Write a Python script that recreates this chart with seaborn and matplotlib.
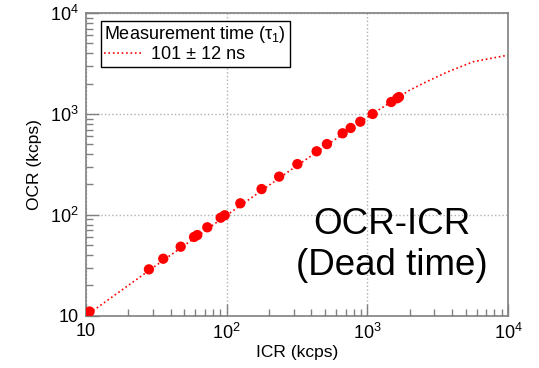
import numpy as np
import pandas as pd
import matplotlib
matplotlib.use('Agg')
import matplotlib.pyplot as plt
import seaborn as sns
from matplotlib.ticker import FuncFormatter, LogLocator, NullFormatter

#%% data
icr_meas = [10.6, 28.0, 35.4, 47.1, 58.6, 61.8, 72.8, 90.6, 96.8, 125, 177, 236,
            318, 436, 516, 667, 761, 891, 1091, 1479, 1632, 1678]
ocr_meas = [11.0, 28.8, 36.7, 48.3, 60.3, 63.0, 75.2, 93.6, 98.9, 130, 180, 239,
            318, 426, 502, 642, 725, 837, 998, 1312, 1428, 1469]

icr_fit = [10.6, 30, 100, 300, 1102, 2009, 2638, 3664, 5660, 9550, 10000]
ocr_fit = [10.6, 30, 99, 292, 1014, 1726, 2085, 2584, 3290, 3775, 3790]

meas = pd.DataFrame({'ICR': icr_meas, 'OCR': ocr_meas})
fit = pd.DataFrame({'ICR': icr_fit, 'OCR': ocr_fit})

#%% style
sns.set_style('white')
plt.rcParams['font.family'] = ['Liberation Sans', 'DejaVu Sans']
plt.rcParams['text.color'] = 'black'
plt.rcParams['axes.labelcolor'] = 'black'
plt.rcParams['xtick.labelcolor'] = 'black'
plt.rcParams['ytick.labelcolor'] = 'black'
plt.rcParams['mathtext.fontset'] = 'custom'
plt.rcParams['mathtext.rm'] = 'Liberation Sans'
plt.rcParams['mathtext.it'] = 'Liberation Sans:italic'

fig = plt.figure(figsize=(5.39, 3.68), dpi=100)
ax = fig.add_axes([0.1596, 0.1421, 0.7829, 0.8226])

sns.lineplot(data=fit, x='ICR', y='OCR', color='red', linestyle=':', lw=1.2,
             label='101 ± 12 ns', ax=ax)
sns.scatterplot(data=meas, x='ICR', y='OCR', color='red', s=55, edgecolor='none',
                ax=ax, zorder=3)

ax.set_xscale('log')
ax.set_yscale('log')
ax.set_xlim([10, 1e4])
ax.set_ylim([10, 1e4])

def fmt(v, pos):
    n = int(round(np.log10(v)))
    return '10' if n == 1 else '$10^{%d}$' % n

for axis in [ax.xaxis, ax.yaxis]:
    axis.set_major_locator(LogLocator(base=10, numticks=10))
    axis.set_minor_locator(LogLocator(base=10, subs=np.arange(2, 10), numticks=10))
    axis.set_major_formatter(FuncFormatter(fmt))
    axis.set_minor_formatter(NullFormatter())

ax.tick_params(which='both', direction='in', color='#808080', labelsize=13,
               top=False, right=False, left=True, bottom=True)
ax.tick_params(which='major', length=9, width=1, pad=5)
ax.tick_params(which='minor', length=5, width=1)
ax.grid(True, which='major', color='#b0b0b0', linestyle=':', lw=1)
for s in ax.spines.values():
    s.set_color('#808080')
    s.set_linewidth(1.2)

ax.set_xlabel('ICR (kcps)', fontsize=12.5)
ax.set_ylabel('OCR (kcps)', fontsize=12.5)
ax.xaxis.set_label_coords(0.5, -0.123)
ax.yaxis.set_label_coords(-0.121, 0.5)
ax.xaxis.label.set_va('center')
ax.yaxis.label.set_va('center')

leg = ax.legend(title='Measurement time (τ$_1$)', loc='upper left',
                bbox_to_anchor=(0.035, 0.975), fontsize=13, title_fontsize=13,
                frameon=True, fancybox=False, framealpha=1, edgecolor='black',
                borderpad=0.2, labelspacing=0.05, handlelength=2.0,
                handletextpad=0.6, borderaxespad=0)
leg._legend_box.align = 'left'
leg.get_frame().set_linewidth(1)

ax.text(0.724, 0.234, 'OCR-ICR\n(Dead time)', transform=ax.transAxes, fontsize=26.5,
        ha='center', va='center', linespacing=1.2)

fig.savefig('out.png', dpi=100)
